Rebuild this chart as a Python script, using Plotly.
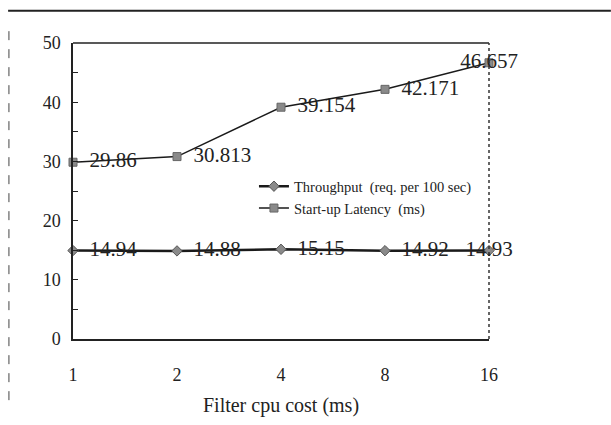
import plotly.graph_objects as go

categories = ["1", "2", "4", "8", "16"]
throughput = [14.94, 14.88, 15.15, 14.92, 14.93]
latency = [29.86, 30.813, 39.154, 42.171, 46.657]
throughput_labels = ["14.94", "14.88", "15.15", "14.92", "14.93"]
latency_labels = ["29.86", "30.813", "39.154", "42.171", "46.657"]

FONT = "Liberation Serif, Times New Roman, serif"

def lab(labels):
    return ["  " + t for t in labels[:-1]] + [labels[-1]]

positions = ["middle right"] * 4 + ["middle center"]

fig = go.Figure()
fig.add_trace(go.Scatter(
    x=categories, y=throughput, mode="lines+markers+text",
    name="Throughput  (req. per 100 sec)",
    text=lab(throughput_labels), textposition=positions,
    textfont=dict(family=FONT, size=21, color="#222"),
    line=dict(color="#1a1a1a", width=2.5),
    marker=dict(symbol="diamond", size=8, color="#8a8a8a", line=dict(color="#555", width=1)),
    cliponaxis=False,
))
fig.add_trace(go.Scatter(
    x=categories, y=latency, mode="lines+markers+text",
    name="Start-up Latency  (ms)",
    text=lab(latency_labels), textposition=positions,
    textfont=dict(family=FONT, size=21, color="#222"),
    line=dict(color="#1a1a1a", width=1.5),
    marker=dict(symbol="square", size=8, color="#8a8a8a", line=dict(color="#666", width=1)),
    cliponaxis=False,
))

fig.update_layout(
    width=611, height=425,
    margin=dict(l=73, r=122, t=43, b=76),
    paper_bgcolor="white", plot_bgcolor="white",
    font=dict(family=FONT, color="#222"),
    showlegend=True,
    legend=dict(x=0.435, y=0.57, xanchor="left", yanchor="top",
                bgcolor="rgba(0,0,0,0)", font=dict(family=FONT, size=14.5),
                itemwidth=30),
    xaxis=dict(
        type="category", range=[0, 4],
        showgrid=False, zeroline=False,
        showline=True, linecolor="#222", linewidth=1.5,
        ticks="", tickfont=dict(family=FONT, size=18),
        ticklabelstandoff=19,
        title=dict(text="Filter cpu cost (ms)", font=dict(family=FONT, size=20), standoff=14),
    ),
    yaxis=dict(
        range=[0, 50], dtick=10, tick0=0,
        showgrid=False, zeroline=False,
        showline=True, linecolor="#222", linewidth=1.5,
        ticks="inside", ticklen=5, tickcolor="#222",
        minor=dict(dtick=5, ticks="inside", ticklen=5, tickcolor="#222"),
        tickfont=dict(family=FONT, size=18),
        ticklabelstandoff=7,
    ),
    shapes=[
        dict(type="line", xref="paper", yref="paper", x0=0, x1=1, y0=1, y1=1,
             line=dict(color="#222", width=1.5)),
        dict(type="line", xref="paper", yref="paper", x0=1, x1=1, y0=0, y1=1,
             line=dict(color="#333", width=1.5, dash="dot")),
        dict(type="line", xref="paper", yref="paper", x0=-0.156, x1=1.293, y0=1.109, y1=1.109,
             line=dict(color="#222", width=2)),
        dict(type="line", xref="paper", yref="paper", x0=-0.154, x1=-0.154, y0=1.04, y1=-0.21,
             line=dict(color="#444", width=1, dash="dash")),
    ],
)

fig.write_html("out.html", config={"displayModeBar": False},
               post_script="document.body.style.margin='0';document.body.style.padding='0';")
